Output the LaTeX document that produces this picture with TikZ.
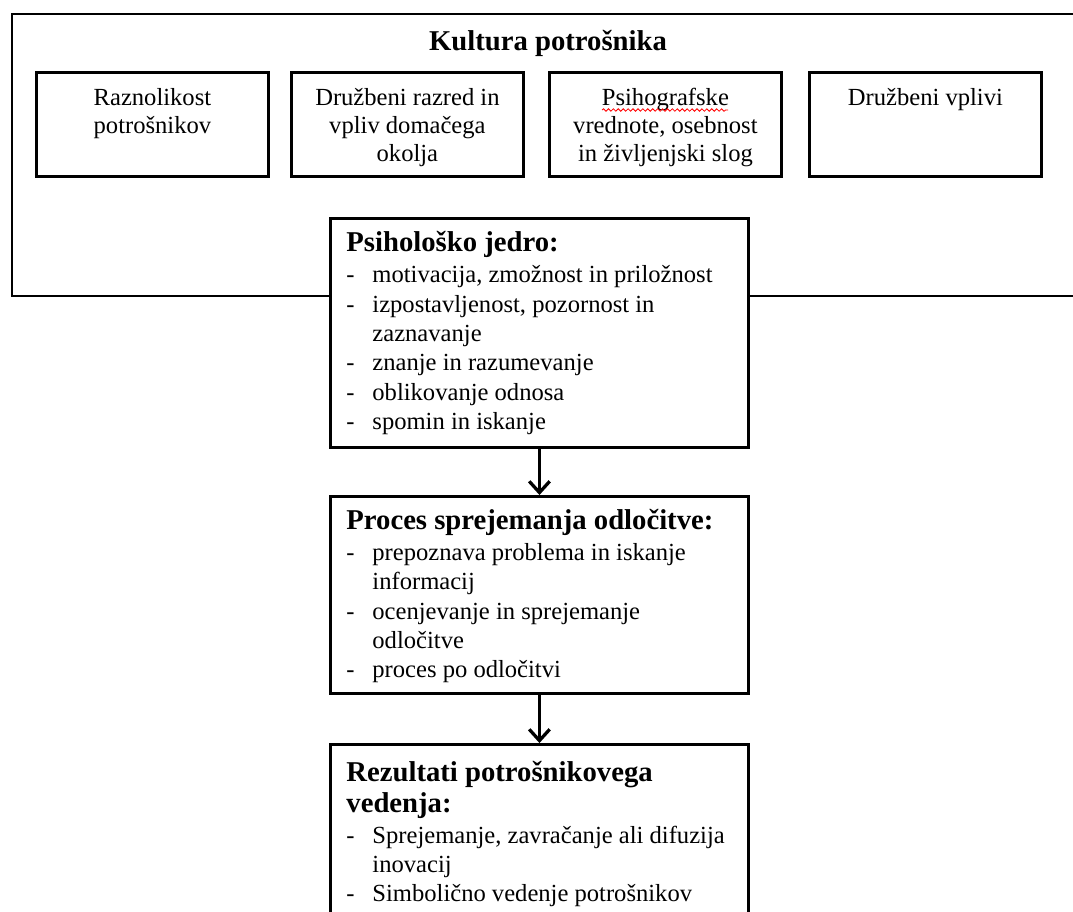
\documentclass[tikz,border=0pt]{standalone}
\usepackage{fontspec}
\setmainfont{Liberation Serif}
\usetikzlibrary{arrows.meta,decorations.pathmorphing}

% box with text at its top
\newcommand{\okvir}[3]{\parbox[c][#2][t]{#1}{#3}}
\newcommand{\naslov}{\fontsize{14}{14.2}\selectfont\bfseries}
\newcommand{\besedilo}{\fontsize{12}{14.35}\selectfont}
\newcommand{\vplivtext}[1]{\okvir{113.2pt}{50.8pt}{\centering\fontsize{12}{13.7}\selectfont\rule{0pt}{16pt}#1}}

\tikzset{
  okvirlinija/.style={line width=1.4pt},
  vpliv/.style={draw, line width=1.4pt, fill=white, inner sep=0pt, anchor=north west},
  jedro/.style={draw, line width=1.4pt, fill=white, inner sep=0pt, anchor=north west},
  tok/.style={line width=1.6pt, -{Straight Barb[length=5.5pt,width=10pt]}}
}

\begin{document}
\begin{tikzpicture}[x=0.488pt,y=-0.488pt]
  \useasboundingbox (0,0) rectangle (1073,911);

  % kultura
  \draw[okvirlinija] (1073,14) -| (12,296) -- (1073,296);
  \node (kultura) at (548,43) {\naslov Kultura potrošnika};

  \node[vpliv] (raznolikost) at (35,71) {\vplivtext{Raznolikost\\potrošnikov}};
  \node[vpliv] (razred) at (290,71) {\vplivtext{Družbeni razred in\\vpliv domačega\\okolja}};
  \node[vpliv] (psihografske) at (548,71) {\vplivtext{Psihografske\\vrednote, osebnost\\in življenjski slog}};
  \node[vpliv] (vplivi) at (808,71) {\vplivtext{Družbeni vplivi}};
  \draw[red, line width=0.4pt, decorate, decoration={snake, amplitude=0.6pt, segment length=2.4pt}] (602,110) -- (728,110);

  % jedro
  \node[jedro] (psi) at (329,217) {\okvir{204pt}{111.8pt}{\besedilo\vspace*{6pt}\hspace*{7.8pt}\begin{tabular}[t]{@{}p{12.7pt}@{}l@{}}
    \multicolumn{2}{@{}l@{}}{\naslov Psihološko jedro:}\\[1pt]
    - & motivacija, zmožnost in priložnost\\
    - & izpostavljenost, pozornost in\\
      & zaznavanje\\
    - & znanje in razumevanje\\
    - & oblikovanje odnosa\\
    - & spomin in iskanje
  \end{tabular}}};

  \node[jedro] (proces) at (329,495) {\okvir{204pt}{96.1pt}{\besedilo\vspace*{6pt}\hspace*{7.8pt}\begin{tabular}[t]{@{}p{12.7pt}@{}l@{}}
    \multicolumn{2}{@{}l@{}}{\naslov Proces sprejemanja odločitve:}\\[0.8pt]
    - & prepoznava problema in iskanje\\
      & informacij\\
    - & ocenjevanje in sprejemanje\\
      & odločitve\\
    - & proces po odločitvi
  \end{tabular}}};

  \node[jedro] (rezultati) at (329,743) {\okvir{204pt}{93.7pt}{\besedilo\vspace*{8pt}\hspace*{7.8pt}\begin{tabular}[t]{@{}p{12.7pt}@{}l@{}}
    \multicolumn{2}{@{}l@{}}{\naslov Rezultati potrošnikovega}\\[0.6pt]
    \multicolumn{2}{@{}l@{}}{\naslov vedenja:}\\[0.8pt]
    - & Sprejemanje, zavračanje ali difuzija\\
      & inovacij\\
    - & Simbolično vedenje potrošnikov
  \end{tabular}}};

  \draw[tok] (psi.south) -- (proces.north);
  \draw[tok] (proces.south) -- (rezultati.north);
\end{tikzpicture}
\end{document}
